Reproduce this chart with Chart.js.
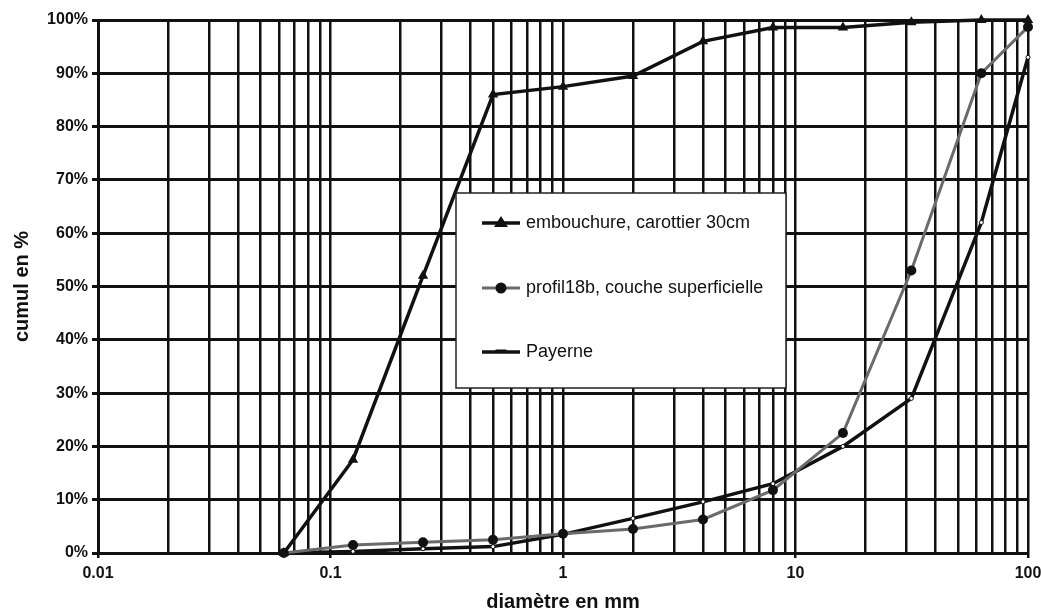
<!DOCTYPE html>
<html>
<head>
<meta charset="utf-8">
<script src="https://cdn.jsdelivr.net/npm/chart.js@4"></script>
<style>
html, body { margin: 0; padding: 0; background: #fff; }
</style>
</head>
<body>
<canvas id="myChart" width="1041" height="614"></canvas>
<script>
// diamètres des tamis (mm) et cumul en %
const diametres = [0.063, 0.125, 0.25, 0.5, 1, 2, 4, 8, 16, 31.5, 63, 100];
const embouchure = [0, 17.5, 52, 86, 87.5, 89.5, 96, 98.6, 98.6, 99.6, 100, 100];
const profil18b = [0, 1.5, 2, 2.5, 3.6, 4.5, 6.3, 11.8, 22.5, 53, 90, 98.7];
const payerne = [0, 0.3, 0.8, 1.2, 3.5, 6.5, 9.6, 13, 20, 29, 62, 93];

const seriesNames = ['embouchure, carottier 30cm', 'profil18b, couche superficielle', 'Payerne'];
const xLabels = [0.01, 0.1, 1, 10, 100];
const yTicks = [0, 10, 20, 30, 40, 50, 60, 70, 80, 90, 100];

const FONT = 'Liberation Sans, Arial, Helvetica, sans-serif';

// lignes de grille log : 1..9 par décade
let gridTicks = [];
xLabels.slice(0, -1).forEach(d => {
    for (let k = 1; k < 10; k++) gridTicks.push(+(d * k).toPrecision(3));
});
gridTicks.push(xLabels[xLabels.length - 1]);

const isLabel = (v) => xLabels.some(l => Math.abs(l - v) < l * 1e-6);

const toPoints = (arr) => diametres.map((d, i) => ({ x: d, y: arr[i] }));

const legendBox = {
    id: 'legendBox',
    afterDatasetsDraw(chart) {
        const ctx = chart.ctx;
        const x0 = 456, y0 = 193, w = 330, h = 195;
        const rows = [223, 288, 352];
        ctx.save();
        ctx.fillStyle = '#fff';
        ctx.fillRect(x0, y0, w, h);
        ctx.strokeStyle = '#222';
        ctx.lineWidth = 1.5;
        ctx.strokeRect(x0, y0, w, h);

        chart.data.datasets.forEach((ds, i) => {
            const y = rows[i];
            ctx.strokeStyle = ds.borderColor;
            ctx.lineWidth = ds.borderWidth;
            ctx.beginPath();
            ctx.moveTo(482, y);
            ctx.lineTo(520, y);
            ctx.stroke();

            ctx.fillStyle = '#111';
            ctx.beginPath();
            if (ds.pointStyle === 'triangle') {
                ctx.moveTo(501, y - 7);
                ctx.lineTo(508, y + 4);
                ctx.lineTo(494, y + 4);
            } else if (ds.pointStyle === 'circle' && ds.pointRadius > 3) {
                ctx.arc(501, y, 5.5, 0, Math.PI * 2);
            } else {
                ctx.moveTo(496, y - 2.5);
                ctx.lineTo(506, y - 2.5);
                ctx.lineTo(509, y + 1);
                ctx.lineTo(493, y + 1);
            }
            ctx.closePath();
            ctx.fill();

            ctx.fillStyle = '#111';
            ctx.font = '18px ' + FONT;
            ctx.textBaseline = 'middle';
            ctx.textAlign = 'left';
            ctx.fillText(ds.label, 526, y);
        });
        ctx.restore();
    }
};

const chart = new Chart(document.getElementById('myChart'), {
    type: 'line',
    data: {
        datasets: [
            {
                label: seriesNames[0],
                data: toPoints(embouchure),
                borderColor: '#111',
                backgroundColor: '#111',
                borderWidth: 3.5,
                pointStyle: 'triangle',
                pointRadius: 6,
                pointBorderWidth: 0,
                clip: false,
                tension: 0
            },
            {
                label: seriesNames[1],
                data: toPoints(profil18b),
                borderColor: '#6a6a6a',
                backgroundColor: '#111',
                borderWidth: 3,
                pointStyle: 'circle',
                pointRadius: 5,
                pointBorderWidth: 0,
                clip: false,
                tension: 0
            },
            {
                label: seriesNames[2],
                data: toPoints(payerne),
                borderColor: '#111',
                backgroundColor: '#fff',
                borderWidth: 3.5,
                pointStyle: 'circle',
                pointRadius: 2,
                pointBorderWidth: 1,
                pointBorderColor: '#111',
                clip: false,
                tension: 0
            }
        ]
    },
    options: {
        responsive: false,
        animation: false,
        devicePixelRatio: 1,
        layout: { padding: { top: 20, right: 13, left: 0, bottom: 0 } },
        plugins: {
            legend: { display: false },
            tooltip: { enabled: false }
        },
        scales: {
            x: {
                type: 'logarithmic',
                min: 0.01,
                max: 100,
                afterBuildTicks: (scale) => {
                    scale.ticks = gridTicks.map(v => ({ value: v, major: isLabel(v) }));
                },
                afterFit: (scale) => {
                    scale.height = 61;
                    scale.paddingRight = 0;
                    scale.paddingLeft = 0;
                },
                ticks: {
                    autoSkip: false,
                    maxRotation: 0,
                    padding: 6,
                    color: '#111',
                    font: { family: FONT, size: 16, weight: 'bold' },
                    callback: (value) => isLabel(value) ? String(value) : ''
                },
                grid: {
                    color: '#111',
                    lineWidth: 2.5,
                    tickLength: 5,
                    tickColor: (c) => (c.tick && isLabel(c.tick.value)) ? '#111' : 'rgba(0,0,0,0)'
                },
                border: { color: '#111', width: 3 },
                title: {
                    display: true,
                    text: 'diamètre en mm',
                    color: '#111',
                    font: { family: FONT, size: 20, weight: 'bold' },
                    padding: { top: 0, bottom: 0 }
                }
            },
            y: {
                min: 0,
                max: 100,
                afterBuildTicks: (scale) => {
                    scale.ticks = yTicks.map(v => ({ value: v }));
                },
                afterFit: (scale) => { scale.width = 98; },
                ticks: {
                    padding: 4,
                    color: '#111',
                    font: { family: FONT, size: 16, weight: 'bold' },
                    callback: (value) => value + '%'
                },
                grid: {
                    color: '#111',
                    lineWidth: 3,
                    tickLength: 6
                },
                border: { color: '#111', width: 3 },
                title: {
                    display: true,
                    text: 'cumul en %',
                    color: '#111',
                    font: { family: FONT, size: 20, weight: 'bold' },
                    padding: { top: 10, bottom: 0 }
                }
            }
        }
    },
    plugins: [legendBox]
});
</script>
</body>
</html>
